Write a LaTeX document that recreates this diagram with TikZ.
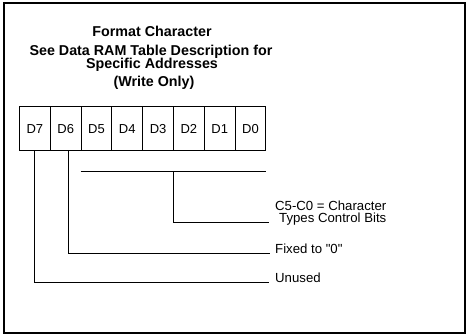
\documentclass[tikz,border=0pt]{standalone}
\usepackage{fontspec}
\setmainfont{Liberation Sans}
\usetikzlibrary{calc}

\begin{document}
\begin{tikzpicture}[x=1pt, y=-1pt,
  line join=miter,
  frame/.style={draw=black, line width=1.3pt},
  cell/.style={draw=black, line width=1pt, minimum width=30.8pt, minimum height=44pt,
    inner sep=0pt, font=\fontsize{13}{15}\selectfont},
  title/.style={font=\bfseries\fontsize{14.3}{15}\selectfont, inner sep=0pt, anchor=base,
    text height=10.3pt, text depth=0pt},
  lbl/.style={font=\fontsize{13.2}{14}\selectfont, inner sep=0pt, anchor=base west},
  wire/.style={draw=black, line width=0.9pt},
]
\useasboundingbox (0,0) rectangle (469,334);
\draw[frame] (4,3) rectangle (465,333);

% --- Titulek
\node[title] (head)  at (152,37) {Format Character};
\node[title] (see)   at (151,55.5) {See Data RAM Table Description for};
\node[title] (spec)  at (152,68.5) {Specific Addresses};
\node[title] (wonly) at (154,87) {(Write Only)};

% --- Bity D7..D0
\foreach \b [count=\i from 0] in {7,6,5,4,3,2,1,0} {
  \node[cell] (d\b) at ({34.9+30.8*\i},129) {D\b};
}

% --- Popisky vpravo (účaří = výška vodorovné čáry)
\node[lbl] (ctrlA)  at (275,210.5) {C5-C0 = Character};
\node[lbl] (ctrlB)  at (279,222.5) {Types Control Bits};
\node[lbl] (fixed)  at (275,253.5) {Fixed to \textquotedbl0\textquotedbl};
\node[lbl] (unused) at (275,282) {Unused};

% --- Závorka nad D5..D0 a její svislý vývod
\coordinate (brL) at ($(d5.south west)+(0,20)$);
\coordinate (brR) at ($(d0.south east)+(0,20)$);
\coordinate (brM) at ($(d2.south west)+(0,20)$);
\draw[wire] (brL) -- (brR);
\draw[wire] (brM) |- ($(ctrlB.base west)+(-10,0)$);

% --- Vývody D6 a D7
\draw[wire] ([xshift=2.5pt]d6.south) |- ($(fixed.base west)+(-5,0)$);
\draw[wire] (d7.south) |- ($(unused.base west)+(-6,0)$);
\end{tikzpicture}
\end{document}
